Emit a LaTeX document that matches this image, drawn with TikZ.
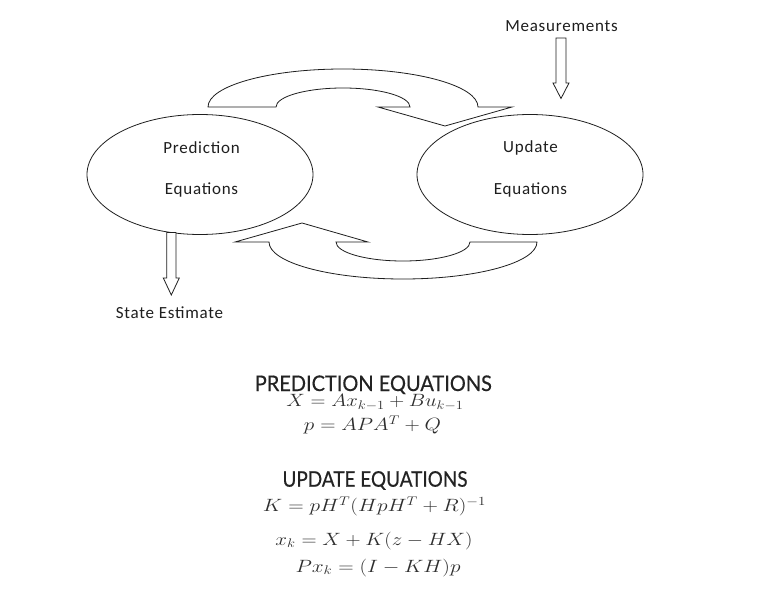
\RequirePackage{fix-cm}
\documentclass[tikz,border=0pt]{standalone}
\usepackage[no-math]{fontspec}
\usepackage{graphicx}
\setmainfont{Carlito}[LetterSpace=4.5]
\newfontfamily\headfont{Lato}[FakeBold=0.5]
\definecolor{linec}{HTML}{1E1E1E}
\definecolor{mathc}{HTML}{2E2E2E}
\definecolor{headc}{HTML}{232323}
\tikzset{
  shape line/.style={draw=linec, line width=0.8pt, fill=white, line join=miter},
  bubble/.style={draw=linec, line width=0.8pt, ellipse, minimum width=226pt, minimum height=120pt, inner sep=0pt},
  lbl/.style={font=\fontsize{17}{20}\selectfont, text=linec, inner sep=0pt},
  headtxt/.style={font=\headfont\fontsize{21.5}{24}\selectfont, text=headc, inner sep=0pt, anchor=base},
  eqtxt/.style={font=\fontsize{17.8}{21}\selectfont, text=mathc, inner sep=0pt, anchor=base}
}
\usetikzlibrary{shapes.geometric}
\begin{document}
\begin{tikzpicture}[x=1pt,y=-1pt]
\useasboundingbox (0,0) rectangle (763,602);
% ellipses
\node[bubble] (pred) at (200,174.5) {};
\node[bubble] (upd) at (530,174.5) {};
\node[lbl] (predA) at (201.5,147.5) {Prediction};
\node[lbl] (predB) at (201.5,190) {Equations};
\node[lbl] (updA) at (530.5,147.5) {Update};
\node[lbl] (updB) at (530.5,190) {Equations};
% measurement arrow
\node[lbl] (meas) at (561.5,26) {Measurements};
\draw[shape line] (556,38) -- (566,38) -- (566,83) -- (569,83) -- (561,98.5) -- (553,83) -- (556,83) -- cycle;
% state estimate arrow
\node[lbl] (state) at (169.5,312.5) {State Estimate};
\draw[shape line] (166.7,232.5) -- (176,232.5) -- (176,278) -- (179.3,278) -- (171.3,295) -- (163.3,278) -- (166.7,278) -- cycle;
% upper curved arrow
\draw[shape line] (208,107) arc[start angle=180, end angle=360, x radius=135, y radius=38]
  -- (512,107) -- (445,126) -- (378,107) -- (410,107)
  arc[start angle=0, end angle=-180, x radius=67, y radius=19] -- cycle;
% lower curved arrow
\draw[shape line] (235,242) -- (269,242)
  arc[start angle=180, end angle=0, x radius=134, y radius=37]
  -- (470,242) arc[start angle=0, end angle=180, x radius=67, y radius=19]
  -- (368,242) -- (302,223) -- cycle;
% equations
\node[headtxt] (h1) at (373.3,391) {\resizebox{237pt}{\height}{PREDICTION EQUATIONS}};
\node[eqtxt] (e1) at (375,406.5) {\resizebox{177pt}{\height}{$X = Ax_{k-1}+Bu_{k-1}$}};
\node[eqtxt] (e2) at (372.5,430.5) {\resizebox{137pt}{\height}{$p = APA^{T}+Q$}};
\node[headtxt] (h2) at (375,486.7) {\resizebox{185pt}{\height}{UPDATE EQUATIONS}};
\node[eqtxt] (e3) at (374.5,511.5) {\resizebox{223pt}{\height}{$K = pH^{T}(HpH^{T}+R)^{-1}$}};
\node[eqtxt] (e4) at (374,545) {\resizebox{197pt}{\height}{$x_k = X+K(z-HX)$}};
\node[eqtxt] (e5) at (378,572) {\resizebox{165pt}{\height}{$Px_k = (I-KH)p$}};
\end{tikzpicture}
\end{document}
